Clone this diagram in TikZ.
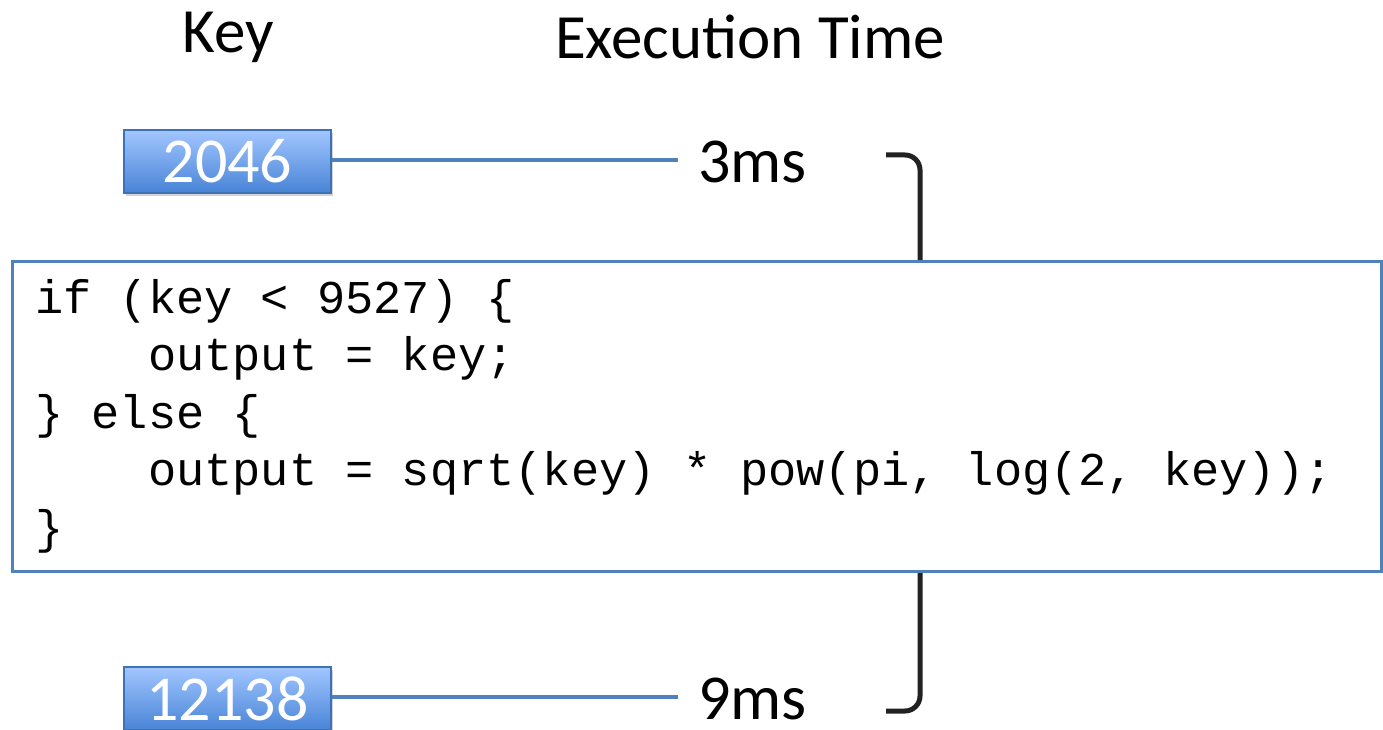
\documentclass[tikz,border=0pt]{standalone}
\usepackage{fontspec}
\setmainfont{Carlito}
\newfontfamily\codefont{Liberation Mono}
\usetikzlibrary{shadows}
\definecolor{lineblue}{RGB}{79,129,189}
\definecolor{boxtop}{RGB}{162,198,255}
\definecolor{boxbot}{RGB}{72,132,214}
\definecolor{boxedge}{RGB}{62,114,184}
\definecolor{brk}{RGB}{34,34,34}
\tikzset{
  keybox/.style={draw=boxedge, line width=1.2pt, top color=boxtop, bottom color=boxbot,
    minimum width=207pt, minimum height=63pt, inner sep=0pt, text=white,
    font=\fontsize{64}{70}\selectfont, drop shadow={shadow xshift=2pt, shadow yshift=-3pt, opacity=0.35}},
  header/.style={font=\fontsize{63}{70}\selectfont, text=black, inner sep=0pt},
  timelbl/.style={font=\fontsize{64}{70}\selectfont, text=black, inner sep=0pt, anchor=west},
  conn/.style={draw=lineblue, line width=3.5pt},
  bracketline/.style={draw=brk, line width=5pt, rounded corners=15pt},
  codebox/.style={draw=lineblue, line width=3pt, fill=white}
}
\begin{document}
\begin{tikzpicture}[x=1pt,y=-1pt]
\useasboundingbox (0,0) rectangle (1383,730);
\node[header] (keyh) at (228,37) {Key};
\node[header] (exech) at (750,37) {Execution Time};

\node[keybox] (k1) at (227.5,161.5) {2046};
\node[keybox] (k2) at (227.5,698.5) {12138};

\node[timelbl] (t1) at (698,162) {3ms};
\node[timelbl] (t2) at (698,699) {9ms};

\coordinate (c1) at (678,160);
\coordinate (c2) at (678,697);
\draw[conn] (k1.east |- c1) -- (c1);
\draw[conn] (k2.east |- c2) -- (c2);

\coordinate (b1) at (886,155);
\coordinate (b2) at (886,711);
\draw[bracketline] (b1) -- (920,155) -- (920,711) -- (b2);

\draw[codebox] (12,261) rectangle (1381,571);
\node[anchor=north west, inner sep=0pt, align=left, font=\codefont\fontsize{47}{57.5}\selectfont] (code) at (35,279)
{if (key < 9527) \{\\
\ \ \ \ output = key;\\
\} else \{\\
\ \ \ \ output = sqrt(key) * pow(pi, log(2, key));\\
\}};
\end{tikzpicture}
\end{document}
